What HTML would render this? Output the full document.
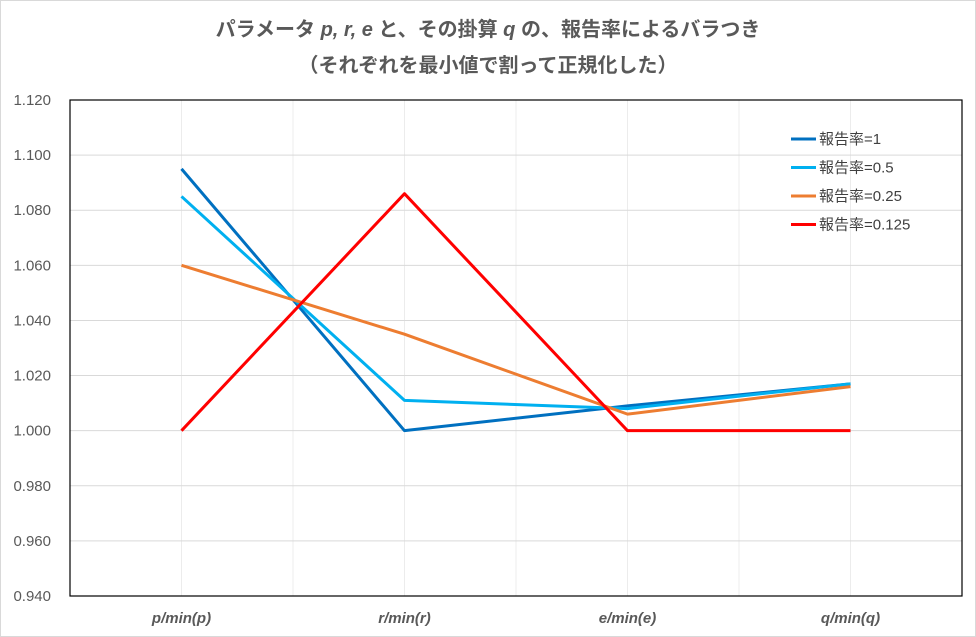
<!DOCTYPE html>
<html><head><meta charset="utf-8"><style>
body{margin:0;background:#fff;}
svg{display:block;font-family:"Liberation Sans","Noto Sans CJK JP",sans-serif;}
</style></head><body>
<svg id="chart" width="976" height="637">
<rect x="0.5" y="0.5" width="975" height="636" fill="#fff" stroke="#d9d9d9"/>
<text x="488" y="36" text-anchor="middle" font-size="20" font-weight="bold" fill="#595959">パラメータ <tspan font-style="italic">p, r, e</tspan> と、その掛算 <tspan font-style="italic">q</tspan> の、報告率によるバラつき</text>
<text x="488" y="72" text-anchor="middle" font-size="20" font-weight="bold" fill="#595959">（それぞれを最小値で割って正規化した）</text>
<g id="grid"></g>
<g id="series"></g>
<g id="legend"></g>
</svg>
<script>
const categories=["p/min(p)","r/min(r)","e/min(e)","q/min(q)"];
const seriesNames=["報告率=1","報告率=0.5","報告率=0.25","報告率=0.125"];
const s1=[1.095,1.000,1.009,1.017];
const s2=[1.085,1.011,1.008,1.017];
const s3=[1.060,1.035,1.006,1.016];
const s4=[1.000,1.086,1.000,1.000];
const yTicks=[0.940,0.960,0.980,1.000,1.020,1.040,1.060,1.080,1.100,1.120];
const colors=["#0070c0","#00b0f0","#ed7d31","#ff0000"];
const NS="http://www.w3.org/2000/svg";
const L=70,R=962,T=100,B=596,yMin=0.94,yMax=1.12;
const step=(R-L)/categories.length;
function xs(i){return L+step*(i+0.5);}
function ys(v){return B-(v-yMin)/(yMax-yMin)*(B-T);}
function mk(t,a,p){const e=document.createElementNS(NS,t);for(const k in a)e.setAttribute(k,a[k]);p.appendChild(e);return e;}
const grid=document.getElementById('grid');
for(let i=1;i<categories.length*2;i++){
 const x=L+step*i/2;
 const g=mk('line',{x1:x,x2:x,y1:T,y2:B,stroke:'#ececec'},grid);
 
 
}
yTicks.forEach(v=>{
 const y=ys(v);
 const g=mk('line',{x1:L,x2:R,y1:y,y2:y,stroke:'#d9d9d9'},grid);
 
 
 const t=mk('text',{x:L-19,y:y+5,'text-anchor':'end','font-size':15,fill:'#595959'},grid);
 t.textContent=v.toFixed(3);
 
 
});
const box=mk('rect',{x:L,y:T,width:R-L,height:B-T,fill:'none',stroke:'#000','stroke-width':1.2},grid);


categories.forEach((c,i)=>{
 const t=mk('text',{x:xs(i),y:B+27,'text-anchor':'middle','font-size':15,'font-style':'italic','font-weight':'bold',fill:'#595959'},grid);
 t.textContent=c;
 
 
});
const sg=document.getElementById('series');
[s1,s2,s3,s4].forEach((s,k)=>{
 const pts=s.map((v,i)=>xs(i)+','+ys(v)).join(' ');
 const p=mk('polyline',{points:pts,fill:'none',stroke:colors[k],'stroke-width':3,'stroke-linejoin':'round'},sg);
 
 
});
const lg=document.getElementById('legend');
seriesNames.forEach((n,k)=>{
 const y=139+k*28.5;
 const l=mk('line',{x1:791,x2:816,y1:y,y2:y,stroke:colors[k],'stroke-width':3},lg);
 
 
 const t=mk('text',{x:819,y:y+5,'font-size':15,fill:'#404040'},lg);
 t.textContent=n;
 
 
});
</script>
</body></html>
